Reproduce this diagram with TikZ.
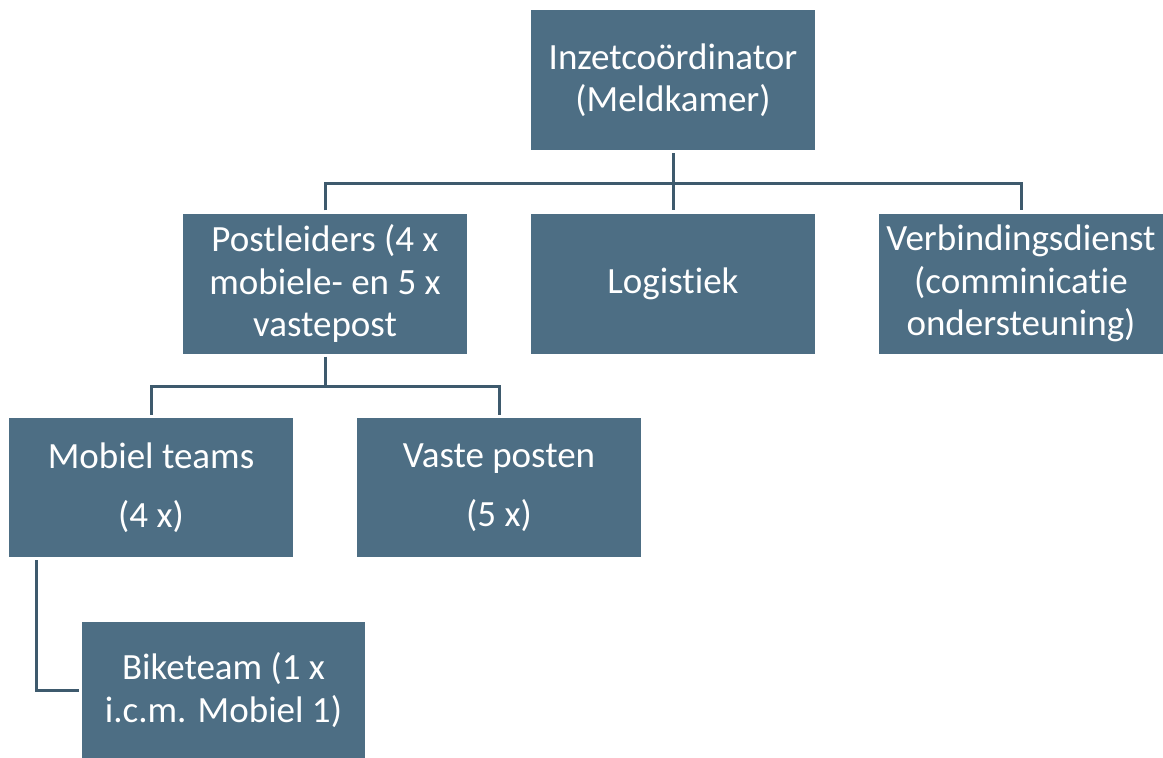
\documentclass[tikz,border=0pt]{standalone}
\usepackage{fontspec}
\setmainfont{Carlito}[Ligatures=NoCommon]
\usepackage{tikz}

\definecolor{boxblue}{HTML}{4D6E84}
\definecolor{lineblue}{HTML}{3E5A6D}

\tikzset{
  orgbox/.style={fill=boxblue, text=white, minimum width=284pt, minimum height=140pt,
    inner sep=0pt, align=center, font=\fontsize{37}{42.5}\selectfont},
  link/.style={draw=lineblue, line width=3pt, shorten <=3pt, shorten >=3pt},
  halflink/.style={draw=lineblue, line width=3pt, shorten <=3pt}
}

\begin{document}
\begin{tikzpicture}[x=1pt,y=-1pt]
\useasboundingbox (0,0) rectangle (1163,758);

\node[orgbox] (top) at (673,80) {Inzetco\"ordinator\\(Meldkamer)};
\node[orgbox] (post) at (325,283.5) {Postleiders (4 x\\mobiele- en 5 x\\vastepost};
\node[orgbox] (log) at (673,283.5) {Logistiek};
\node[orgbox] (verb) at (1021,283.5) {Verbindingsdienst\\(comminicatie\\ondersteuning)};

\node[orgbox, minimum height=139pt] (mob) at (151,487.5) {Mobiel teams\\[16pt](4 x)};
\node[orgbox, minimum height=139pt] (vast) at (499,487.5) {Vaste posten\\[16pt](5 x)};

\node[orgbox, minimum width=283pt, minimum height=136pt] (bike) at (223.5,690) {Biketeam (1 x\\i.c.m. Mobiel 1)};

\coordinate (j1) at (673,183);
\coordinate (j2) at (325,386);

\draw[link] (top) -- (log);
\draw[link] (post.north) |- (j1) -| (verb.north);
\draw[halflink] (post) -- (j2);
\draw[link] (mob.north) |- (j2) -| (vast.north);
\draw[link] ([xshift=28pt]mob.south west) |- (bike.west);

\end{tikzpicture}
\end{document}
